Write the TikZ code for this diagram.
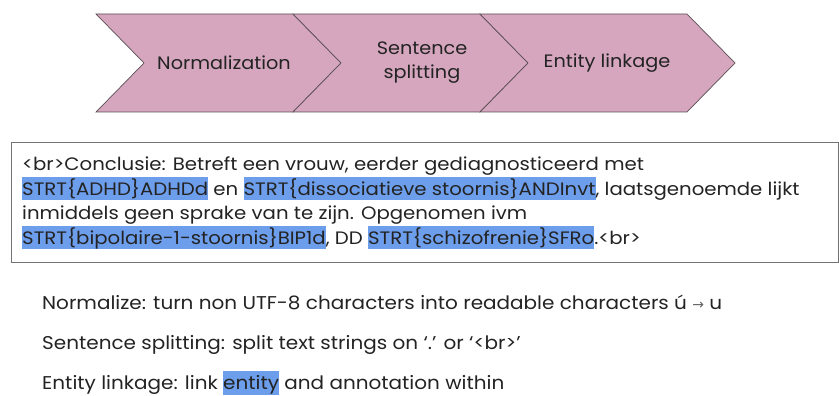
\documentclass[tikz,border=0pt]{standalone}
\usepackage{fontspec}
\setmainfont{Poppins}
\newfontfamily\bodyfont[FakeStretch=1.095]{Poppins}
\newfontfamily\notefont[FakeStretch=1.08]{Poppins}
\newfontfamily\chevfont[FakeStretch=1.07]{Poppins}
\newfontfamily\symfont{DejaVu Sans}
\definecolor{chevfill}{RGB}{213,166,189}
\definecolor{chevdraw}{RGB}{90,80,85}
\definecolor{hlblue}{RGB}{109,158,235}
\definecolor{txt}{RGB}{35,35,35}
\newcommand\hlt[1]{{\setlength{\fboxsep}{0pt}\colorbox{hlblue}{\rule[-5pt]{0pt}{23pt}#1}}}
\newcommand\hls[1]{{\setlength{\fboxsep}{0pt}\colorbox{hlblue}{\rule[-6pt]{0pt}{24pt}#1}}}
\tikzset{
  chev/.style={fill=chevfill, draw=chevdraw, line width=0.7pt, line join=miter},
  chevtext/.style={font=\chevfont\fontsize{18}{24}\selectfont, text=txt, align=center, inner sep=0pt},
  bodyline/.style={font=\bodyfont\fontsize{18}{20}\selectfont, text=txt, anchor=base west, inner sep=0pt},
  noteline/.style={font=\notefont\fontsize{18.5}{20}\selectfont, text=txt, anchor=base west, inner sep=0pt},
}
\begin{document}
\begin{tikzpicture}[x=1pt,y=-1pt]
\useasboundingbox (0,0) rectangle (839,396);
% chevrons
\path[chev] (96,14) -- (293,14) -- (341,63) -- (293,112) -- (96,112) -- (144,63) -- cycle;
\path[chev] (293,14) -- (480,14) -- (528,63) -- (480,112) -- (293,112) -- (341,63) -- cycle;
\path[chev] (480,14) -- (687,14) -- (735,63) -- (687,112) -- (480,112) -- (528,63) -- cycle;
\node[chevtext] (c1) at (224,63) {Normalization};
\node[chevtext] (c2) at (422,63) {Sentence\\splitting};
\node[chevtext] (c3) at (607,63) {Entity linkage};
% text box
\draw[draw=gray!90!black, line width=0.8pt] (11,142) rectangle (838.6,262);
\node[bodyline] (l1) at (22,170) {<br>Conclusie: Betreft een vrouw, eerder gediagnosticeerd met};
\node[bodyline] (l2) at (22,195) {\hlt{STRT\{ADHD\}ADHDd} en \hlt{STRT\{dissociatieve stoornis\}ANDInvt}, laatsgenoemde lijkt};
\node[bodyline] (l3) at (22,219) {inmiddels geen sprake van te zijn. Opgenomen ivm};
\node[bodyline] (l4) at (22,244) {\hlt{STRT\{bipolaire-1-stoornis\}BIP1d}, DD \hlt{STRT\{schizofrenie\}SFRo}.<br>};
% notes
\node[noteline] (n1) at (42,309) {Normalize: turn non UTF-8 characters into readable characters ú {\symfont\fontsize{14}{14}\selectfont\color{txt!70}→} u};
\node[noteline] (n2) at (42,349) {Sentence splitting: split text strings on ‘.’ or ‘<br>’};
\node[noteline] (n3) at (42,389) {Entity linkage: link \hls{entity} and annotation within};
\end{tikzpicture}
\end{document}
